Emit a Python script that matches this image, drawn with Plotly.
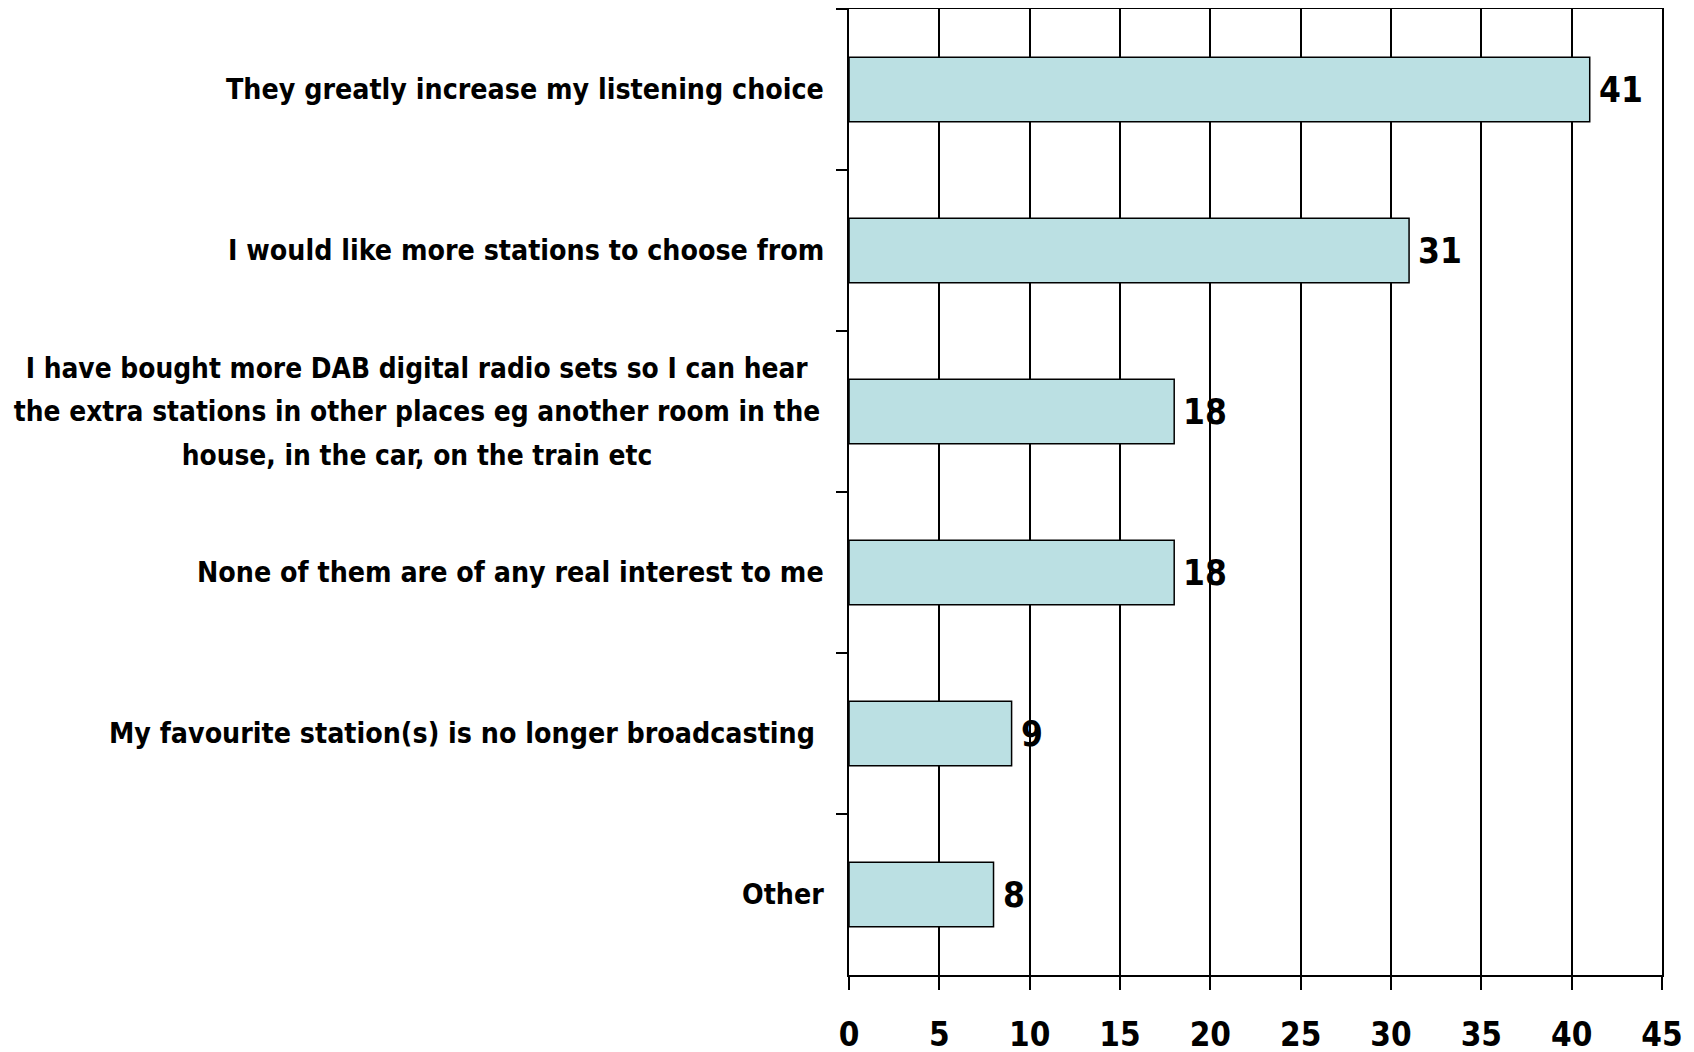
import plotly.graph_objects as go

categories = [
    "They greatly increase my listening choice",
    "I would like more stations to choose from",
    "I have bought more DAB digital radio sets so I can hear<br>the extra stations in other places eg another room in the<br>house, in the car, on the train etc",
    "None of them are of any real interest to me",
    "My favourite station(s) is no longer broadcasting\u00a0",
    "Other",
]
values = [41, 31, 18, 18, 9, 8]
x_ticks = [0, 5, 10, 15, 20, 25, 30, 35, 40, 45]

FONT = "DejaVu Sans Condensed, Liberation Sans Narrow, Arial Narrow, sans-serif"
LINE_H = 43.5

fig = go.Figure()
fig.add_trace(go.Bar(
    x=values,
    y=categories,
    orientation="h",
    marker=dict(color="#BBE0E3", line=dict(color="black", width=1.5)),
    width=0.4,
    hoverinfo="x",
))

annotations = []
for c, v in zip(categories, values):
    lines = c.split("<br>")
    n = len(lines)
    for i, ln in enumerate(lines):
        ann = dict(
            x=0, xref="paper", y=c, yref="y",
            text="<b>" + ln + "</b>", showarrow=False,
            xanchor="right", yanchor="middle", align="center",
            xshift=-23, yshift=((n - 1) / 2 - i) * LINE_H,
            font=dict(family=FONT, size=28.3 if n == 1 else 27.8, color="black"),
        )
        if n > 1:
            ann["width"] = 814
        annotations.append(ann)
    annotations.append(dict(
        x=v, xref="x", y=c, yref="y",
        text="<b>" + str(v) + "</b>", showarrow=False,
        xanchor="left", yanchor="middle", xshift=7,
        font=dict(family=FONT, size=35, color="black"),
    ))

fig.update_layout(
    width=1686, height=1044,
    margin=dict(l=841, r=32, t=1, b=77, autoexpand=False),
    paper_bgcolor="white", plot_bgcolor="white",
    showlegend=False,
    annotations=annotations,
    font=dict(family=FONT, color="black"),
    xaxis=dict(
        range=[0, 45], tickvals=x_ticks,
        ticktext=["<b>%d</b>" % t for t in x_ticks],
        tickfont=dict(family=FONT, size=33, color="black"),
        showgrid=True, gridcolor="black", gridwidth=1.5,
        showline=True, linecolor="black", linewidth=2, mirror=True,
        ticks="outside", ticklen=13, tickwidth=1.5, tickcolor="black",
        ticklabelstandoff=16,
        zeroline=False, fixedrange=True, automargin=False,
    ),
    yaxis=dict(
        autorange="reversed",
        showticklabels=False,
        tickson="boundaries",
        ticks="outside", ticklen=11, tickwidth=1.5, tickcolor="black",
        showgrid=False,
        showline=True, linecolor="black", linewidth=2, mirror=True,
        zeroline=False, fixedrange=True, automargin=False,
    ),
)

fig.write_html("out.html")
